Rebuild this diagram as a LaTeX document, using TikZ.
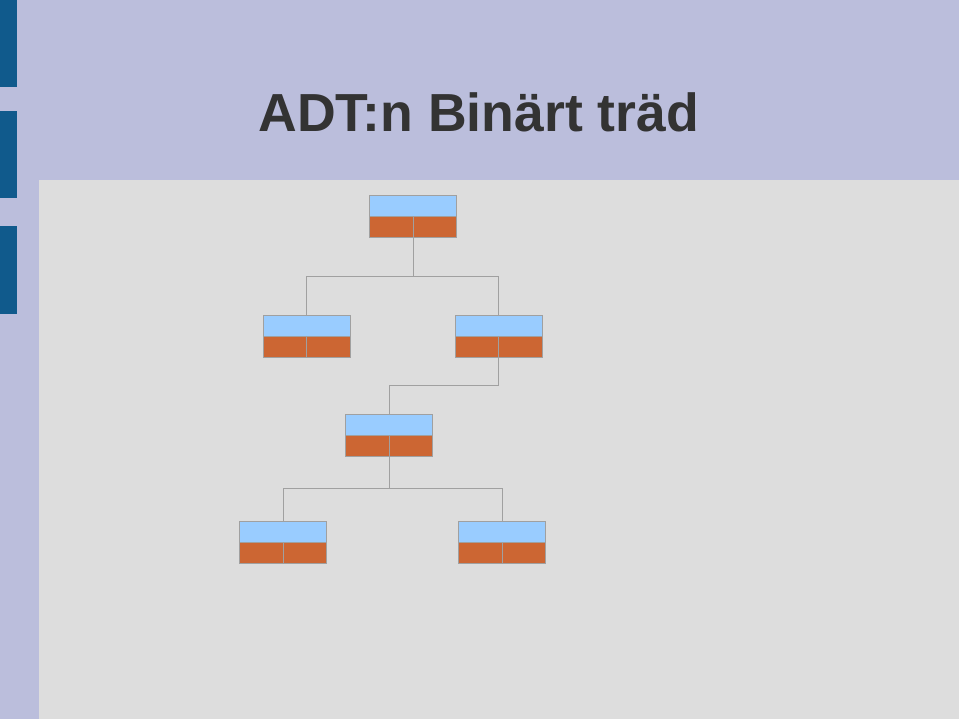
\documentclass[tikz,border=0pt]{standalone}
\usepackage{fontspec}
\setmainfont{Liberation Sans}
\usetikzlibrary{calc}

\definecolor{slidebg}{RGB}{187,190,220}
\definecolor{slidebar}{RGB}{16,90,140}
\definecolor{panel}{RGB}{221,221,221}
\definecolor{keyblue}{RGB}{153,204,255}
\definecolor{ptrorange}{RGB}{204,102,51}
\definecolor{titlegray}{RGB}{51,51,51}
\definecolor{linegray}{RGB}{160,160,160}

\begin{document}
\begin{tikzpicture}[x=1pt, y=-1pt,
	treenode/.style={draw=linegray, line width=0.8pt, fill=keyblue,
		minimum width=87pt, minimum height=42pt, inner sep=0pt,
		path picture={
			\fill[ptrorange] (path picture bounding box.west) rectangle (path picture bounding box.south east);
			\draw[linegray, line width=0.8pt] (path picture bounding box.west) -- (path picture bounding box.east);
			\draw[linegray, line width=0.8pt] (path picture bounding box.center) -- (path picture bounding box.south);
		}},
	link/.style={draw=linegray, line width=0.8pt}]
	
	% parameters
	\def\panelx{38.7}    % left edge of grey panel
	\def\panely{180}     % top edge of grey panel
	\def\barw{17.3}      % width of side bars
	
	\useasboundingbox (0,0) rectangle (959,719);
	
	% slide background
	\fill[slidebg] (0,0) rectangle (959,719);
	\fill[panel] (\panelx,\panely) rectangle (960,720);
	
	% side bars
	\fill[slidebar] (0,0) rectangle (\barw,87.3);
	\fill[slidebar] (0,110.7) rectangle (\barw,198.3);
	\fill[slidebar] (0,226) rectangle (\barw,314);
	
	% title
	\node[anchor=base, text=titlegray, font=\fontsize{53.6}{60}\selectfont\bfseries] (title) at (478.8,131.7) {ADT:n Binärt träd};
	
	% tree nodes
	\node[treenode] (root) at (413,216.3) {};
	\node[treenode] (left) at (306.5,336) {};
	\node[treenode] (right) at (498.7,336) {};
	\node[treenode] (mid) at (389,435.7) {};
	\node[treenode] (leafl) at (283,542) {};
	\node[treenode] (leafr) at (502,542) {};
	
	% connectors
	\foreach \a/\b in {root/left, root/right, right/mid, mid/leafl, mid/leafr}
	\draw[link] (\a.south) |- ($(\a.south)!0.5!(\b.north)$) -| (\b.north);
	
\end{tikzpicture}
\end{document}
